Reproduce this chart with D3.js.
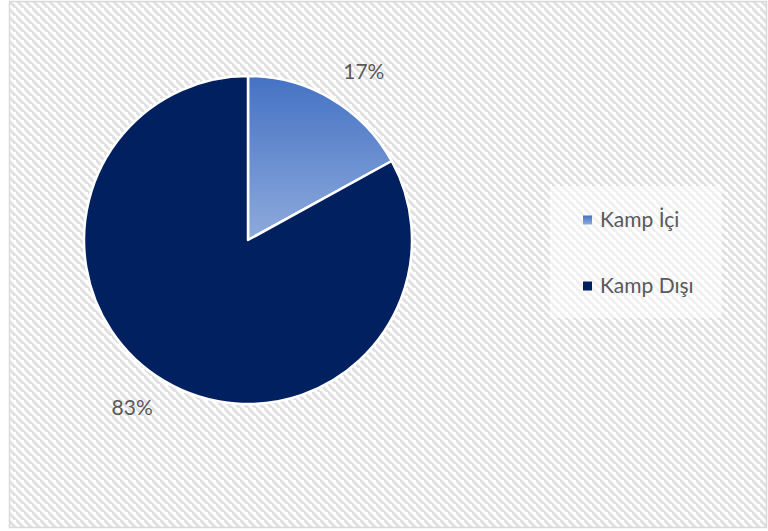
<!DOCTYPE html>
<html>
<head>
<meta charset="utf-8">
<script src="https://cdn.jsdelivr.net/npm/d3@7"></script>
<style>
  html, body { margin: 0; padding: 0; background: #ffffff; }
  svg { display: block; }
</style>
</head>
<body>
<svg id="chart" width="768" height="531"></svg>
<script>
// ---- data ----
const categories = ["Kamp İçi", "Kamp Dışı"];
const values = [17, 83];
const labels = ["17%", "83%"];

// ---- layout ----
const W = 768, H = 531;
const cx = 248, cy = 240, R = 164;
const font = "Lato, 'Open Sans', sans-serif";
const textColor = "#595959";

const svg = d3.select("#chart");
const defs = svg.append("defs");

// striped background pattern
const pat = defs.append("pattern")
  .attr("id", "stripes")
  .attr("patternUnits", "userSpaceOnUse")
  .attr("width", 8).attr("height", 8);
pat.append("rect").attr("width", 8).attr("height", 8).attr("fill", "#ffffff");
pat.append("path")
  .attr("d", "M-2,-2 L10,10 M-6,2 L2,10 M6,-6 L14,2")
  .attr("stroke", "#e0e0e0").attr("stroke-width", 3);

// gradient for light slice
const grad = defs.append("linearGradient")
  .attr("id", "lightGrad").attr("x1", 0).attr("y1", 0).attr("x2", 0).attr("y2", 1);
grad.append("stop").attr("offset", "0%").attr("stop-color", "#4472c4");
grad.append("stop").attr("offset", "100%").attr("stop-color", "#8eaadc");

const fills = ["url(#lightGrad)", "#002060"];
const color = d3.scaleOrdinal().domain(categories).range(fills);

// chart area
svg.append("rect")
  .attr("x", 9.5).attr("y", 1.5)
  .attr("width", 757).attr("height", 526)
  .attr("fill", "url(#stripes)")
  .attr("stroke", "#d9d9d9").attr("stroke-width", 1.5);

// pie
const data = categories.map((c, i) => ({ cat: c, value: values[i], label: labels[i] }));
const pie = d3.pie().value(d => d.value).sort(null);
const arcs = pie(data);
const arc = d3.arc().innerRadius(0).outerRadius(R);

const g = svg.append("g").attr("transform", `translate(${cx},${cy})`);
g.selectAll("path.slice")
  .data(arcs)
  .join("path")
  .attr("class", "slice")
  .attr("d", arc)
  .attr("fill", d => color(d.data.cat))
  .attr("stroke", "#ffffff")
  .attr("stroke-width", 2.5)
  .attr("stroke-linejoin", "round");

// data labels (outside end)
const labelR = R + 40;
const angleNudge = 4 * Math.PI / 180;
g.selectAll("text.lbl")
  .data(arcs)
  .join("text")
  .attr("class", "lbl")
  .attr("x", d => labelR * Math.sin((d.startAngle + d.endAngle) / 2 + angleNudge))
  .attr("y", d => -labelR * Math.cos((d.startAngle + d.endAngle) / 2 + angleNudge))
  .attr("dy", "0.35em")
  .attr("text-anchor", "middle")
  .attr("font-family", font)
  .attr("font-size", 21)
  .attr("fill", textColor)
  .text(d => d.data.label);

// legend
const legend = svg.append("g");
legend.append("rect")
  .attr("x", 550).attr("y", 186).attr("width", 172).attr("height", 132)
  .attr("fill", "#ffffff").attr("fill-opacity", 0.5);

const legY = d3.scalePoint().domain(categories).range([220, 286]);
const items = legend.selectAll("g.item")
  .data(categories)
  .join("g")
  .attr("class", "item")
  .attr("transform", d => `translate(583,${legY(d)})`);
items.append("rect")
  .attr("x", 0).attr("y", -4.5).attr("width", 9).attr("height", 9)
  .attr("fill", d => color(d));
items.append("text")
  .attr("x", 17).attr("y", 0).attr("dy", "0.35em")
  .attr("font-family", font)
  .attr("font-size", 21)
  .attr("fill", textColor)
  .text(d => d);
</script>
</body>
</html>
